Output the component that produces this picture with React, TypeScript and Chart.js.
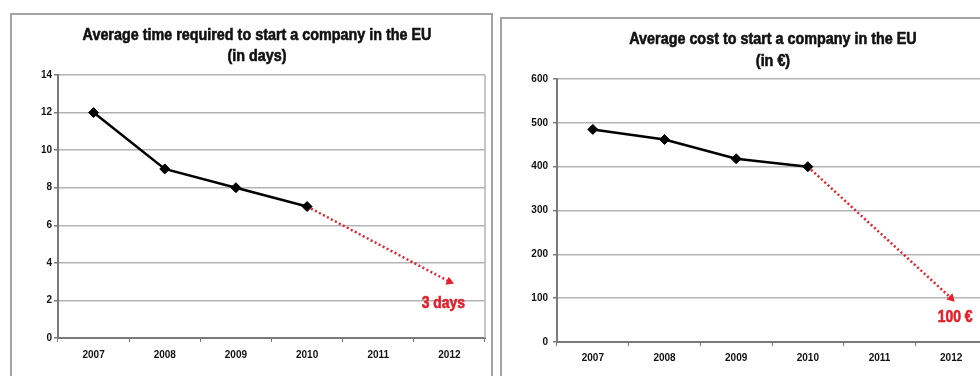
import React, { useEffect, useRef } from "react";
import { Chart, registerables } from "chart.js";

Chart.register(...registerables);

// ---------- data ----------
const years = ["2007", "2008", "2009", "2010", "2011", "2012"];

const timeActual = [12, 9, 8, 7, null, null];
const timeTarget = [null, null, null, 7, null, 3];
const timeTitle = ["Average time required to start a company in the EU", "(in days)"];
const timeTargetLabel = "3 days";
const timeAxis = { min: 0, max: 14, step: 2 };

const costActual = [485, 462, 418, 400, null, null];
const costTarget = [null, null, null, 400, null, 100];
const costTitle = ["Average cost to start a company in the EU", "(in €)"];
const costTargetLabel = "100 €";
const costAxis = { min: 0, max: 600, step: 100 };

// ---------- styles ----------
const FONT = "'Liberation Sans', Arial, sans-serif";
const RED = "#e3202b";
const GRID = "#b4b4b4";
const AXIS = "#7a7a7a";
const NARROW = 0.87; // horizontal squeeze, imitating a narrow typeface

const plotBorder = {
  id: "plotBorder",
  beforeDatasetsDraw(chart: any) {
    const { ctx, chartArea } = chart;
    ctx.save();
    ctx.strokeStyle = GRID;
    ctx.lineWidth = 1.5;
    ctx.beginPath();
    ctx.moveTo(chartArea.right, chartArea.top);
    ctx.lineTo(chartArea.right, chartArea.bottom);
    ctx.stroke();
    ctx.restore();
  },
};

function narrowText(ctx: any, text: string, x: number, y: number, size: number, color: string) {
  ctx.save();
  ctx.fillStyle = color;
  ctx.strokeStyle = color;
  ctx.lineWidth = 0.6;
  ctx.font = `bold ${size}px ${FONT}`;
  ctx.textAlign = "center";
  ctx.textBaseline = "middle";
  ctx.translate(x, y);
  ctx.scale(NARROW, 1);
  ctx.fillText(text, 0, 0);
  ctx.strokeText(text, 0, 0);
  ctx.restore();
}

const narrowTitle = {
  id: "narrowTitle",
  afterDraw(chart: any, _args: any, opts: any) {
    const { ctx } = chart;
    (opts.lines as string[]).forEach((line, i) => {
      narrowText(ctx, line, opts.cx, opts.y0 + i * opts.gap, opts.size, "#111");
    });
  },
};

const targetText = {
  id: "targetText",
  afterDatasetsDraw(chart: any, _args: any, opts: any) {
    const meta = chart.getDatasetMeta(1);
    const data = chart.data.datasets[1].data;
    let idx = -1;
    for (let i = data.length - 1; i >= 0; i--) {
      if (data[i] !== null) { idx = i; break; }
    }
    if (idx < 0) return;
    const pt = meta.data[idx];
    narrowText(chart.ctx, opts.text, pt.x + opts.dx, pt.y + opts.dy, opts.size, RED);
  },
};

type Cfg = {
  actual: (number | null)[];
  target: (number | null)[];
  title: string[];
  label: string;
  axis: { min: number; max: number; step: number };
  width: number;
  height: number;
  yWidth: number;
  xHeight: number;
  padRight: number;
  padTop: number;
  titleSize: number;
  titleCx: number;
  titleY0: number;
  titleGap: number;
  yPad: number;
  xPad: number;
  labelDx: number;
  labelDy: number;
  labelSize: number;
  arrowRot: number;
};

function LineChart({ cfg, style }: { cfg: Cfg; style: React.CSSProperties }) {
  const ref = useRef<HTMLCanvasElement | null>(null);
  useEffect(() => {
    if (!ref.current) return;
    const chart = new Chart(ref.current, {
      type: "line",
      data: {
        labels: years,
        datasets: [
          {
            data: cfg.actual,
            borderColor: "#000",
            backgroundColor: "#000",
            borderWidth: 2.5,
            pointStyle: "rectRot",
            pointRadius: 5,
            pointBorderWidth: 1,
            fill: false,
            tension: 0,
          },
          {
            data: cfg.target,
            borderColor: RED,
            backgroundColor: RED,
            borderWidth: 2.5,
            borderDash: [2, 2.5],
            spanGaps: true,
            pointStyle: "triangle",
            pointRotation: cfg.arrowRot,
            pointRadius: cfg.target.map((v, i) => (i === cfg.target.length - 1 ? 5 : 0)),
            pointBorderWidth: 0,
            fill: false,
            tension: 0,
          },
        ],
      },
      options: {
        responsive: false,
        animation: false,
        devicePixelRatio: 1,
        layout: { padding: { left: 0, right: cfg.padRight, top: cfg.padTop, bottom: 0 } },
        plugins: {
          legend: { display: false },
          tooltip: { enabled: false },
          title: { display: false },
          narrowTitle: { lines: cfg.title, cx: cfg.titleCx, y0: cfg.titleY0, gap: cfg.titleGap, size: cfg.titleSize },
          targetText: { text: cfg.label, dx: cfg.labelDx, dy: cfg.labelDy, size: cfg.labelSize },
        } as any,
        scales: {
          x: {
            offset: true,
            afterFit: (s: any) => { s.height = cfg.xHeight; },
            grid: {
              display: true,
              offset: true,
              drawOnChartArea: false,
              drawTicks: true,
              tickLength: 4,
              color: AXIS,
            },
            border: { display: true, color: AXIS, width: 2 },
            ticks: {
              color: "#111",
              padding: cfg.xPad,
              font: { family: FONT, size: 10, weight: "bold" },
              maxRotation: 0,
            },
          },
          y: {
            min: cfg.axis.min,
            max: cfg.axis.max,
            afterFit: (s: any) => { s.width = cfg.yWidth; },
            grid: { color: GRID, lineWidth: 1.5, tickLength: 4, tickColor: AXIS },
            border: { display: true, color: AXIS, width: 2 },
            ticks: {
              stepSize: cfg.axis.step,
              color: "#111",
              padding: cfg.yPad,
              font: { family: FONT, size: 10, weight: "bold" },
            },
          },
        },
      },
      plugins: [plotBorder, targetText, narrowTitle],
    });
    return () => chart.destroy();
  }, [cfg]);
  return <canvas ref={ref} width={cfg.width} height={cfg.height} style={{ position: "absolute", ...style }} />;
}

const leftCfg: Cfg = {
  actual: timeActual,
  target: timeTarget,
  title: timeTitle,
  label: timeTargetLabel,
  axis: timeAxis,
  width: 479,
  height: 361,
  yWidth: 46,
  xHeight: 38,
  padRight: 6,
  padTop: 60,
  titleSize: 16.5,
  titleCx: 245,
  titleY0: 20,
  titleGap: 21,
  yPad: 2,
  xPad: 7,
  labelDx: -6,
  labelDy: 22,
  labelSize: 16,
  arrowRot: 112,
};

const rightCfg: Cfg = {
  actual: costActual,
  target: costTarget,
  title: costTitle,
  label: costTargetLabel,
  axis: costAxis,
  width: 542,
  height: 357,
  yWidth: 55,
  xHeight: 34,
  padRight: 57,
  padTop: 60,
  titleSize: 16.5,
  titleCx: 271,
  titleY0: 20,
  titleGap: 22,
  yPad: 5,
  xPad: 6,
  labelDx: 4,
  labelDy: 19,
  labelSize: 16,
  arrowRot: 135,
};

export default function App() {
  return (
    <div
      style={{
        position: "fixed",
        left: 0,
        top: 0,
        width: 980,
        height: 376,
        overflow: "hidden",
        background: "#fff",
      }}
    >
      <div
        style={{
          position: "absolute",
          left: 10,
          top: 13,
          width: 483,
          height: 420,
          border: "2px solid #a3a3a3",
          boxSizing: "border-box",
        }}
      />
      <div
        style={{
          position: "absolute",
          left: 500,
          top: 17,
          width: 600,
          height: 420,
          border: "2px solid #a3a3a3",
          boxSizing: "border-box",
        }}
      />
      <LineChart cfg={leftCfg} style={{ left: 12, top: 15 }} />
      <LineChart cfg={rightCfg} style={{ left: 502, top: 19 }} />
    </div>
  );
}
